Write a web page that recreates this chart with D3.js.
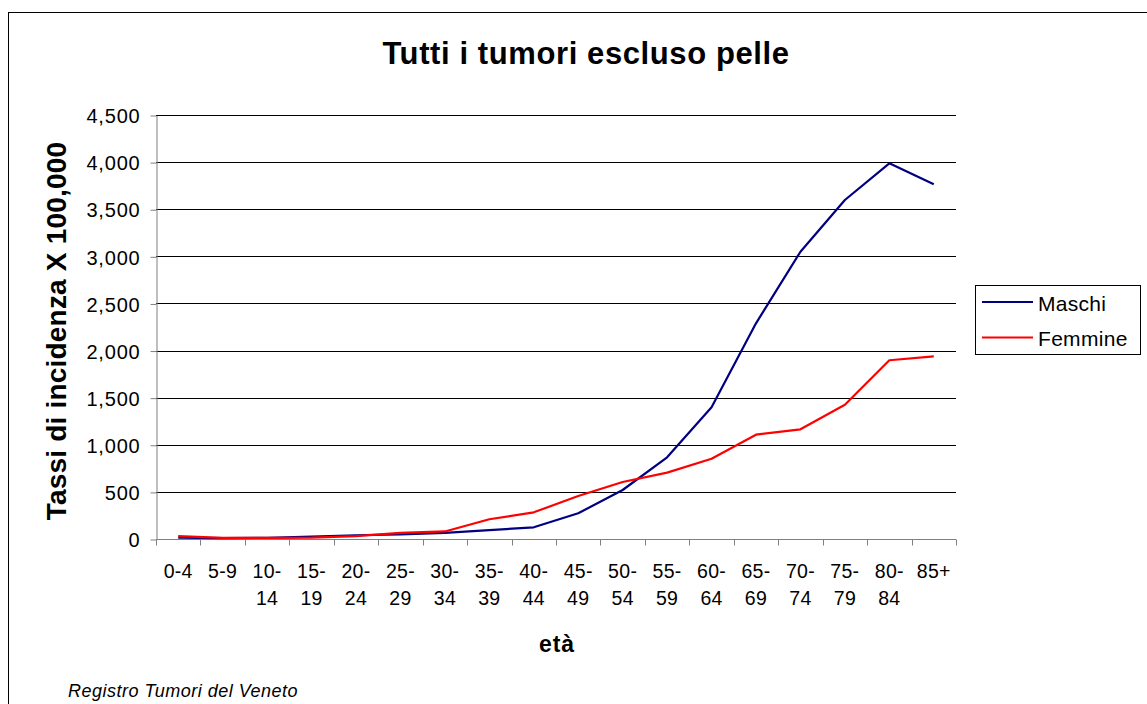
<!DOCTYPE html>
<html>
<head>
    <meta charset="utf-8"/>
    <title>Tutti i tumori escluso pelle</title>
    <style>
        body {
            margin: 0;
            background: #fff;
            font-family: 'Liberation Sans', Arial, sans-serif;
        }
        svg { display: block; }
        .grid line { stroke: #000; stroke-width: 1px; }
        .axis path, .axis line { stroke: #808080; }
        .axis text { fill: #000; font-family: 'Liberation Sans', Arial, sans-serif; }
        .y.axis text { font-size: 20px; letter-spacing: 0.8px; }
        .x.axis text { font-size: 19.5px; letter-spacing: 0.3px; }
    </style>
    <script src="https://cdnjs.cloudflare.com/ajax/libs/d3/7.8.5/d3.min.js"></script>
</head>
<body>
<svg id="chart" width="1147" height="704"></svg>
<script>
// fasce d'eta
const ageGroups = ['0-4', '5-9', '10-14', '15-19', '20-24', '25-29', '30-34', '35-39', '40-44',
    '45-49', '50-54', '55-59', '60-64', '65-69', '70-74', '75-79', '80-84', '85+'];
const maschi = [15, 10, 12, 25, 40, 50, 65, 95, 124, 273, 520, 867, 1398, 2289, 3049, 3598, 3987, 3764];
const femmine = [30, 12, 12, 15, 30, 65, 80, 210, 283, 456, 605, 704, 852, 1107, 1164, 1425, 1897, 1939];
const yTicks = [0, 500, 1000, 1500, 2000, 2500, 3000, 3500, 4000, 4500];
const seriesNames = ['Maschi', 'Femmine'];
const seriesColors = ['#000080', '#ff0000'];

const svg = d3.select('#chart');

// cornice esterna
svg.append('rect')
    .attr('x', 8.5).attr('y', 12.5)
    .attr('width', 1200).attr('height', 800)
    .attr('fill', 'none').attr('stroke', '#000').attr('stroke-width', 1);

const pLeft = 156, pRight = 956, pTop = 115, pBottom = 539;

const x = d3.scaleBand().domain(ageGroups).range([pLeft, pRight]);
const y = d3.scaleLinear().domain([0, 4500]).range([pBottom, pTop]);

// griglia
svg.append('g').attr('class', 'grid')
    .selectAll('line').data(yTicks.filter(d => d > 0)).enter().append('line')
    .attr('x1', pLeft).attr('x2', pRight)
    .attr('y1', d => Math.round(y(d)) + 0.5).attr('y2', d => Math.round(y(d)) + 0.5);

// asse y
const yAxis = svg.append('g').attr('class', 'y axis')
    .attr('transform', `translate(${pLeft + 0.5},0.5)`)
    .call(d3.axisLeft(y).tickValues(yTicks).tickSize(6).tickSizeOuter(0).tickPadding(10)
        .tickFormat(d3.format(',')));
yAxis.selectAll('text').attr('dy', '0.36em');

// asse x con tacche ai confini
const xAxis = svg.append('g').attr('class', 'x axis')
    .attr('transform', `translate(0,${pBottom + 0.5})`);
xAxis.append('line').attr('x1', pLeft).attr('x2', pRight).attr('stroke', '#808080');
const bounds = d3.range(ageGroups.length + 1).map(i => pLeft + i * x.bandwidth());
xAxis.selectAll('.tk').data(bounds).enter().append('line')
    .attr('class', 'tk')
    .attr('x1', d => Math.round(d) + 0.5).attr('x2', d => Math.round(d) + 0.5)
    .attr('y1', 0).attr('y2', 6).attr('stroke', '#808080');

ageGroups.forEach(a => {
    const parts = a.length > 4 ? [a.split('-')[0] + '-', a.split('-')[1]] : [a];
    const t = xAxis.append('text')
        .attr('text-anchor', 'middle');
    parts.forEach((p, i) => {
        t.append('tspan').attr('x', x(a) + x.bandwidth() / 2).attr('y', 38 + i * 27.5).text(p);
    });
});

// linee
const line = d3.line()
    .x((d, i) => x(ageGroups[i]) + x.bandwidth() / 2)
    .y(d => y(d));

[maschi, femmine].forEach((s, i) => {
    svg.append('path')
        .datum(s)
        .attr('fill', 'none')
        .attr('stroke', seriesColors[i])
        .attr('stroke-width', 2.2)
        .attr('stroke-linejoin', 'round')
        .attr('d', line);
});

// titoli
svg.append('text')
    .attr('x', 586).attr('y', 64)
    .attr('text-anchor', 'middle')
    .attr('font-size', 31).attr('font-weight', 'bold')
    .attr('letter-spacing', 0.6)
    .text('Tutti i tumori escluso pelle');

svg.append('text')
    .attr('transform', 'translate(66,331) rotate(-90)')
    .attr('text-anchor', 'middle')
    .attr('font-size', 28).attr('font-weight', 'bold')
    .attr('letter-spacing', 0.2)
    .text('Tassi di incidenza X 100,000');

svg.append('text')
    .attr('x', 557).attr('y', 652)
    .attr('text-anchor', 'middle')
    .attr('font-size', 23).attr('font-weight', 'bold')
    .attr('letter-spacing', 1)
    .text('età');

svg.append('text')
    .attr('x', 68).attr('y', 697)
    .attr('font-size', 18).attr('font-style', 'italic')
    .attr('letter-spacing', 0.5)
    .text('Registro Tumori del Veneto');

// legenda
const legend = svg.append('g');
legend.append('rect')
    .attr('x', 975.5).attr('y', 285.5)
    .attr('width', 165).attr('height', 69)
    .attr('fill', '#fff').attr('stroke', '#000');
seriesNames.forEach((n, i) => {
    const ly = 302 + i * 35.5;
    legend.append('line')
        .attr('x1', 982).attr('x2', 1033)
        .attr('y1', ly).attr('y2', ly)
        .attr('stroke', seriesColors[i]).attr('stroke-width', 2.2);
    legend.append('text')
        .attr('x', 1038).attr('y', ly + 8.5)
        .attr('font-size', 21)
        .attr('letter-spacing', 0.3)
        .text(n);
});
</script>
</body>
</html>
